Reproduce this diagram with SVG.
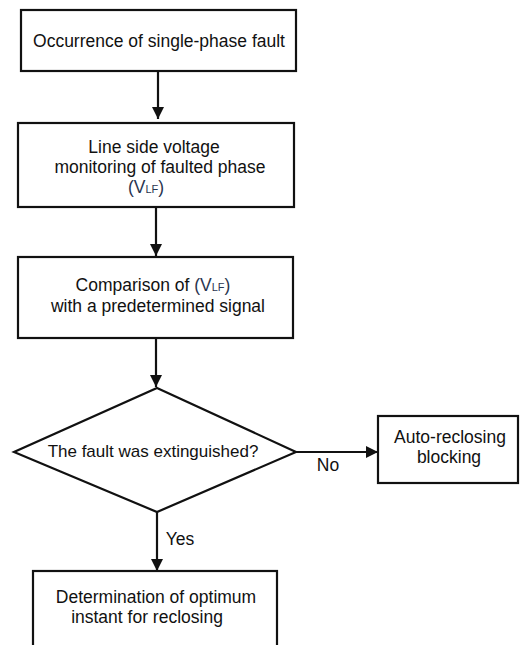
<svg xmlns="http://www.w3.org/2000/svg" width="520" height="645" viewBox="0 0 520 645">
<style>
.box{fill:#fff;stroke:#111;stroke-width:2.2}
.t{font-family:"Liberation Sans",Arial,sans-serif;font-size:17.5px;fill:#111;text-anchor:middle}
.v{fill:#2a3550}
.sub{font-size:11px}
.c{stroke:#111;stroke-width:2.2;fill:none}
</style>
<defs>
<marker id="ah" markerUnits="userSpaceOnUse" markerWidth="12" markerHeight="12" viewBox="0 0 12 12" refX="12" refY="6" orient="auto">
<path d="M0,0 L12,6 L0,12 Z" fill="#111"/>
</marker>
</defs>
<rect width="520" height="645" fill="#fff"/>
<g id="connectors">
<line class="c" x1="158" y1="71" x2="158" y2="119" marker-end="url(#ah)"/>
<line class="c" x1="156" y1="207" x2="156" y2="256" marker-end="url(#ah)"/>
<line class="c" x1="156" y1="338" x2="156" y2="387" marker-end="url(#ah)"/>
<line class="c" x1="296" y1="452" x2="378" y2="452" marker-end="url(#ah)"/>
<line class="c" x1="157" y1="512" x2="157" y2="571" marker-end="url(#ah)"/>
<text class="t" x="328" y="471">No</text>
<text class="t" x="180" y="545">Yes</text>
</g>
<g id="n1">
<rect class="box" x="21" y="10" width="275" height="61"/>
<text class="t" x="159" y="47">Occurrence of single-phase fault</text>
</g>
<g id="n2">
<rect class="box" x="18" y="123" width="276" height="84"/>
<text class="t" x="154" y="153">Line side voltage</text>
<text class="t" x="160" y="173">monitoring of faulted phase</text>
<text class="t v" x="146" y="193">(V<tspan class="sub">LF</tspan>)</text>
</g>
<g id="n3">
<rect class="box" x="18" y="257" width="275" height="81"/>
<text class="t" x="153" y="291">Comparison of <tspan class="v">(V<tspan class="sub">LF</tspan>)</tspan></text>
<text class="t" x="158" y="312">with a predetermined signal</text>
</g>
<g id="n4">
<polygon class="box" points="157,388 296,452 157,512 14,452"/>
<text class="t" x="153" y="457" style="font-size:17px">The fault was extinguished?</text>
</g>
<g id="n5">
<rect class="box" x="378" y="416" width="140" height="67"/>
<text class="t" x="450" y="443">Auto-reclosing</text>
<text class="t" x="449" y="463">blocking</text>
</g>
<g id="n6">
<rect class="box" x="33" y="571" width="244" height="100"/>
<text class="t" x="156" y="603">Determination of optimum</text>
<text class="t" x="147" y="623">instant for reclosing</text>
</g>
</svg>
